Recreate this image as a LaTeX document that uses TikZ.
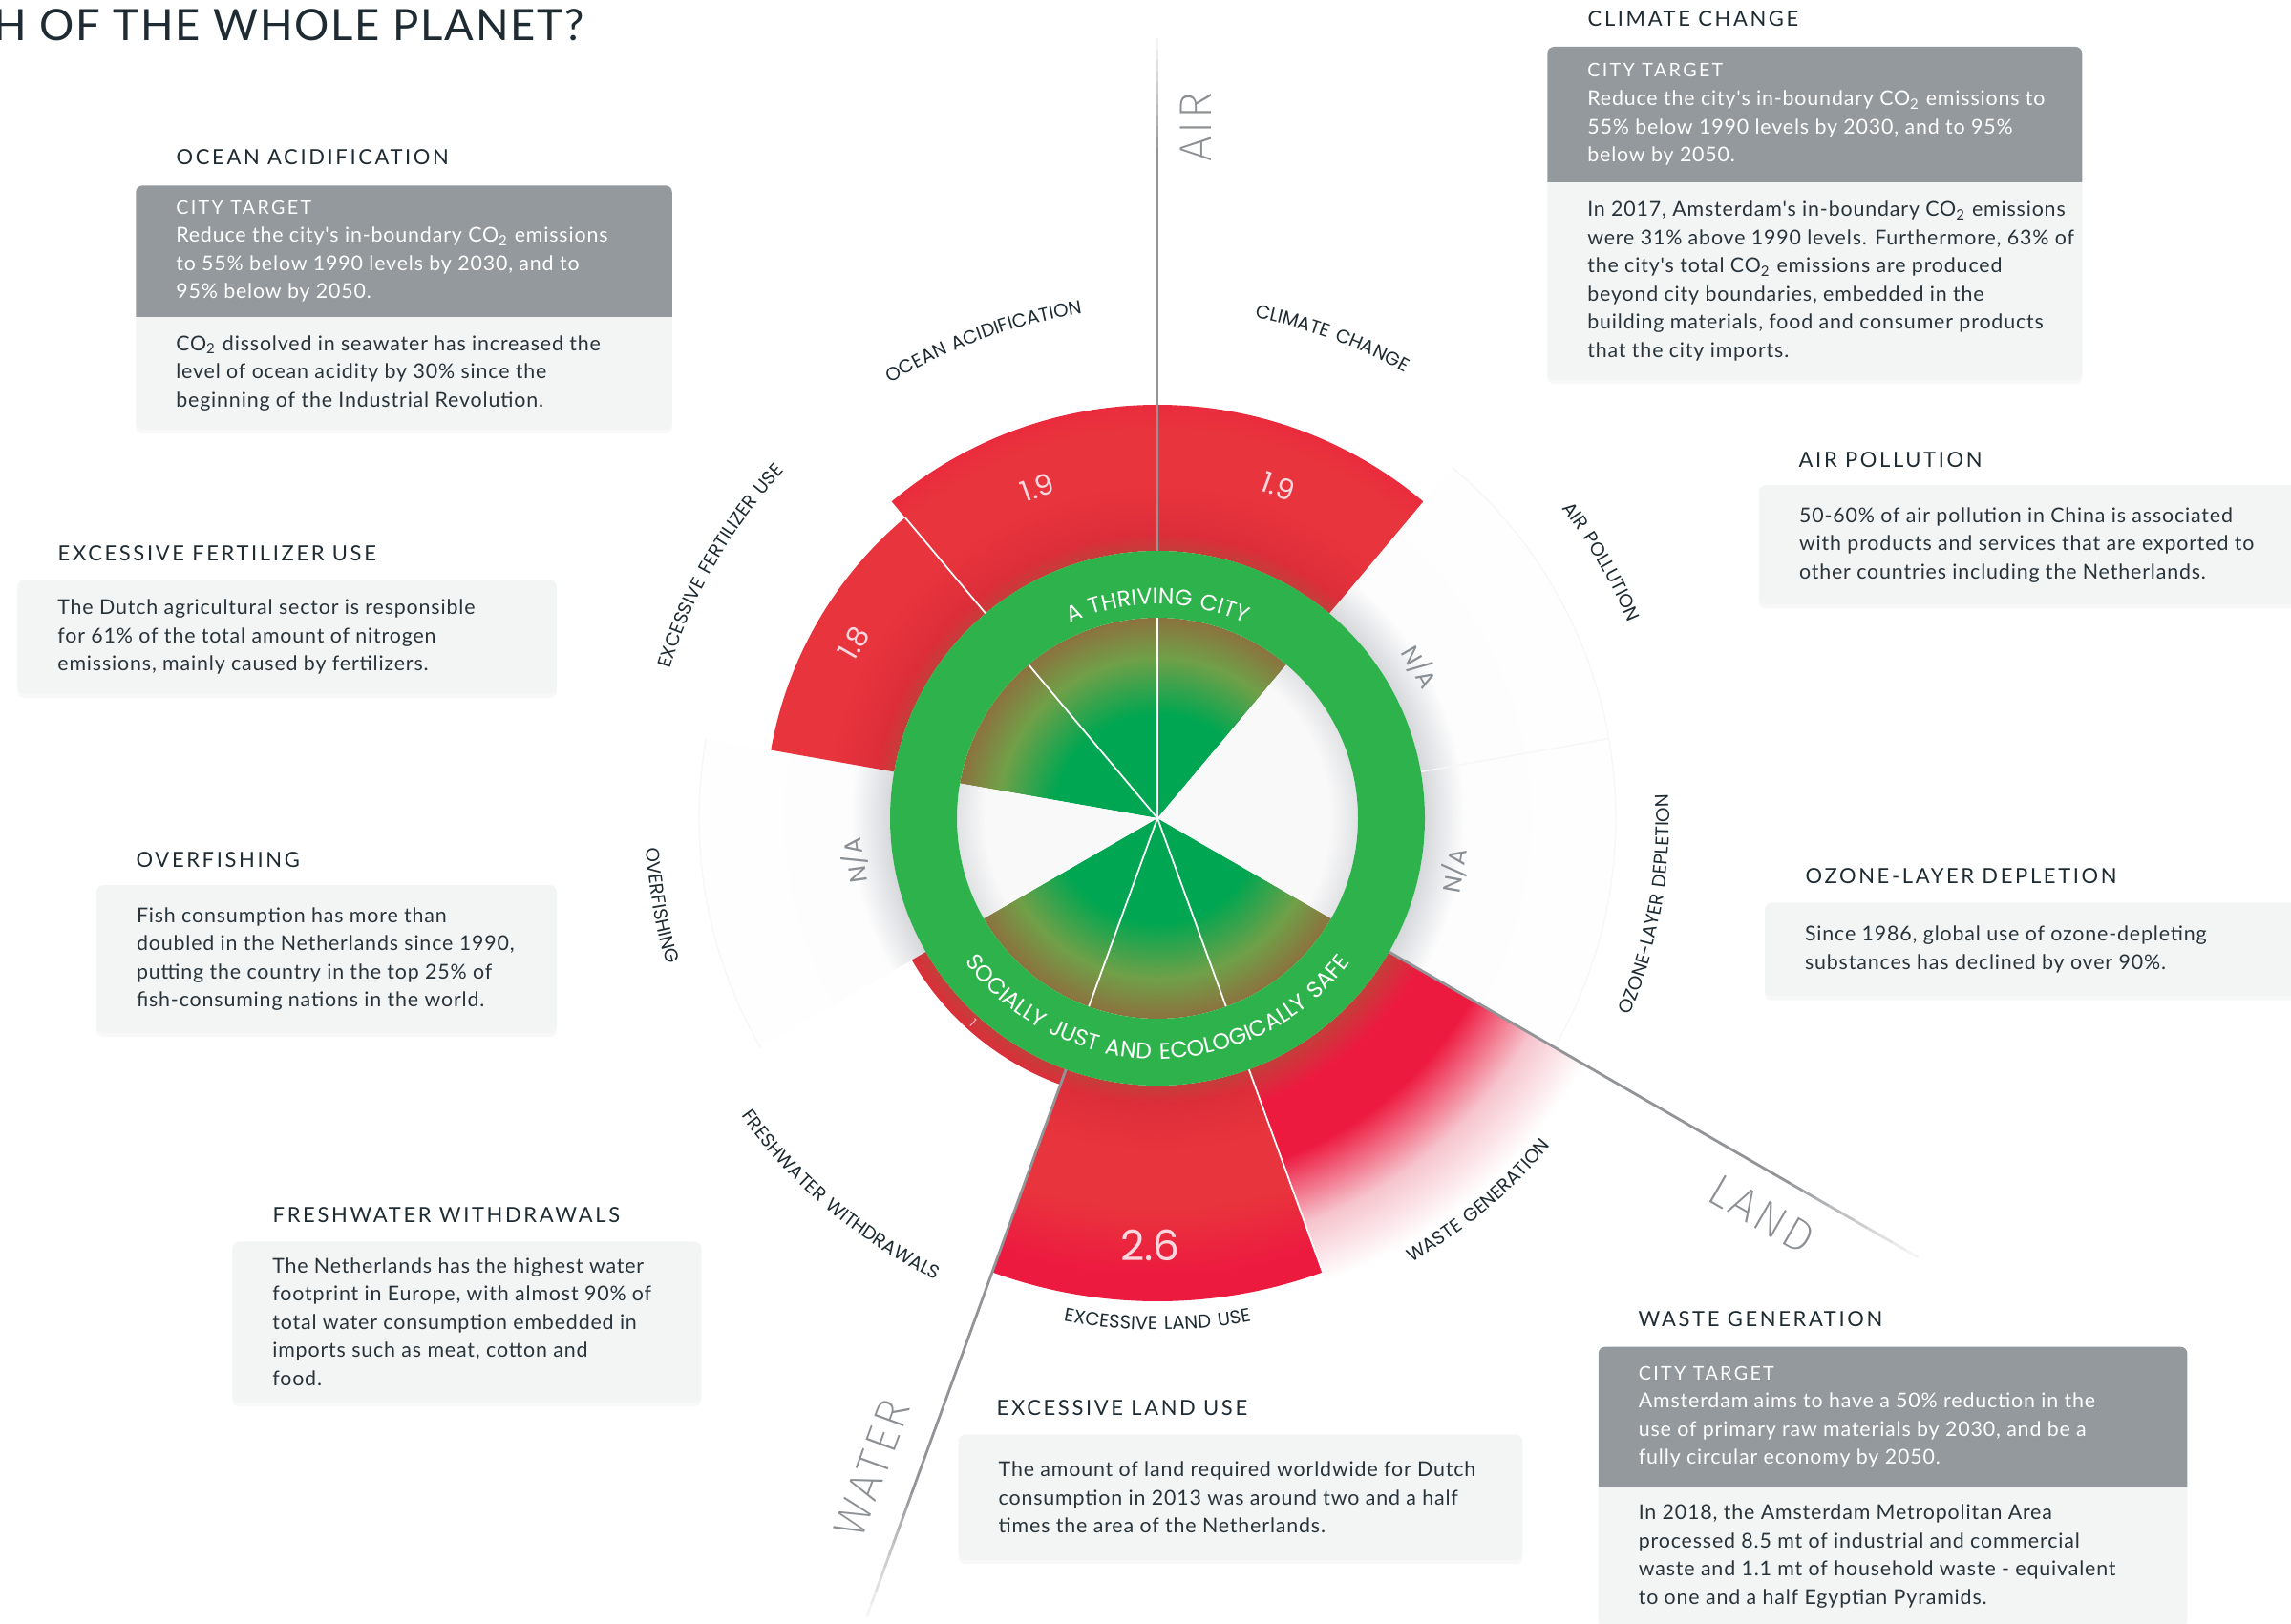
\documentclass[tikz,border=0pt]{standalone}
\usepackage{fontspec}
\setmainfont{Lato}
\newfontfamily\bodyfont[LetterSpace=4]{Lato}
\newfontfamily\headfont[LetterSpace=12]{Lato}
\newfontfamily\titleface[LetterSpace=4]{Lato}
\newfontfamily\curvefont[LetterSpace=10]{Poppins}
\newfontfamily\numfont{Poppins}
\IfFontExistsTF{Fira Sans ExtraLight}
  {\newfontfamily\thinfont[LetterSpace=6]{Fira Sans ExtraLight}}
  {\IfFontExistsTF{Fira Sans Light}
    {\newfontfamily\thinfont[LetterSpace=6]{Fira Sans Light}}
    {\newfontfamily\thinfont[LetterSpace=6]{Fira Sans}}}
\usetikzlibrary{positioning,decorations.text,shadows,backgrounds}

\definecolor{inkdark}{RGB}{30,43,50}
\definecolor{ink}{RGB}{40,52,58}
\definecolor{boxdark}{RGB}{147,153,156}
\definecolor{boxlight}{RGB}{243,244,244}
\definecolor{ringgreen}{RGB}{46,178,75}
\definecolor{coregreen}{RGB}{0,166,81}
\definecolor{coreolive}{RGB}{112,160,72}
\definecolor{corebrown}{RGB}{140,114,62}
\definecolor{corewhite}{RGB}{249,249,249}
\definecolor{coreshade}{RGB}{225,226,229}
\definecolor{redshadow}{RGB}{196,62,58}
\definecolor{rededge}{RGB}{220,46,58}
\definecolor{redmid}{RGB}{232,52,60}
\definecolor{redhot}{RGB}{237,26,64}
\definecolor{redpale}{RGB}{246,196,205}
\definecolor{nashade}{RGB}{214,216,220}
\definecolor{nawhite}{RGB}{253,253,253}
\definecolor{axisgray}{RGB}{146,148,152}
\definecolor{numpink}{RGB}{251,216,224}
\definecolor{natext}{RGB}{138,143,148}
\definecolor{bigword}{RGB}{140,143,147}

% radial shadings, 25bp = radius of the shaded circle
\pgfdeclareradialshading{redglow}{\pgfpointorigin}{color(0bp)=(redshadow); color(11.67bp)=(redshadow); color(12.4bp)=(rededge); color(14.5bp)=(redmid); color(17bp)=(redmid); color(20bp)=(redhot); color(50bp)=(redhot)}
\pgfdeclareradialshading{wastefade}{\pgfpointorigin}{color(0bp)=(redshadow); color(11.67bp)=(redshadow); color(13.2bp)=(redhot); color(15.8bp)=(redhot); color(18.8bp)=(redpale); color(21.5bp)=(white); color(50bp)=(white)}
\pgfdeclareradialshading{greenglow}{\pgfpointorigin}{color(0bp)=(coregreen); color(13bp)=(coregreen); color(20bp)=(coreolive); color(25bp)=(corebrown); color(50bp)=(corebrown)}
\pgfdeclareradialshading{whiteglow}{\pgfpointorigin}{color(0bp)=(corewhite); color(21.5bp)=(corewhite); color(25bp)=(coreshade); color(50bp)=(coreshade)}
\pgfdeclareradialshading{naglow}{\pgfpointorigin}{color(0bp)=(nashade); color(11.67bp)=(nashade); color(13.4bp)=(nawhite); color(25bp)=(white); color(50bp)=(white)}

\newcommand{\targetfont}{\headfont\fontsize{5.6}{8.4}\selectfont}

\tikzset{
  sector/.style n args={4}{insert path={(#1:#3) arc[start angle=#1, end angle=#2, radius=#3] -- (#2:#4) arc[start angle=#2, end angle=#1, radius=#4] -- cycle}},
  core/.style n args={3}{insert path={(0,0) -- (#1:#3) arc[start angle=#1, end angle=#2, radius=#3] -- cycle}},
  curvelabel/.style={decorate, decoration={text along path, text align=center, text color=inkdark, text={|\curvefont\fontsize{5.6}{6}\selectfont|#1}}},
  ringlabel/.style={decorate, decoration={text along path, text align=center, text color=white, text={|\curvefont\fontsize{6.7}{7}\selectfont|#1}}},
  head/.style={anchor=base west, inner sep=0pt, text=inkdark, font=\headfont\fontsize{6.25}{7}\selectfont},
  boxtext/.style={align=left, inner sep=0pt, text=ink, font=\bodyfont\fontsize{6.08}{8.4}\selectfont},
  whitetext/.style={boxtext, text=white},
  panel/.style={inner sep=0pt, outer sep=0pt},
  boxshadow/.style={drop shadow={opacity=0.06, shadow xshift=0pt, shadow yshift=-1.2pt}},
  num/.style={inner sep=0pt, text=numpink, font=\numfont\fontsize{8.5}{9}\selectfont},
  na/.style={inner sep=0pt, text=natext, font=\numfont\fontsize{7.2}{8}\selectfont},
  bigword/.style={inner sep=0pt, text=bigword, font=\thinfont\fontsize{13.5}{15}\selectfont},
  sepline/.style={white, line width=0.5pt},
  axisline/.style={draw=axisgray, line width=0.8pt},
  nafaint/.style={draw=black!3, line width=0.4pt}
}

\begin{document}
\begin{tikzpicture}
\useasboundingbox (0,0) rectangle (23.99,17);

% title (cut at the left edge)
\node[anchor=base east, inner sep=0pt, text=inkdark, font=\titleface\fontsize{12.9}{14}\selectfont] (title) at (6.12,16.57) {H OF THE WHOLE PLANET?};

% the doughnut
\begin{scope}[shift={(12.12,8.43)}]
  % N/A sectors
  \foreach \a/\b in {10/50, -30/10, 170/210} {
    \begin{scope}
      \clip[sector={\a}{\b}{2.8}{4.8}];
      \shade[shading=naglow] (0,0) circle (6);
    \end{scope}
    \draw[nafaint] (\a:4.8) arc[start angle=\a, end angle=\b, radius=4.8];
  }
  \draw[nafaint] (10:2.8) -- (10:4.8);

  % overshoot wedges
  \foreach \a/\b/\r in {50/90/4.33, 90/130/4.33, 130/170/4.11, -110/-70/5.06, -150/-110/2.97} {
    \begin{scope}
      \clip[sector={\a}{\b}{2.8}{\r}];
      \shade[shading=redglow] (0,0) circle (6);
    \end{scope}
  }
  \begin{scope}
    \clip[sector={-70}{-30}{2.8}{5.7}];
    \shade[shading=wastefade] (0,0) circle (6);
  \end{scope}

  % inner core
  \foreach \a/\b in {50/170, -150/-30} {
    \begin{scope}
      \clip[core={\a}{\b}{2.1}];
      \shade[shading=greenglow] (0,0) circle (2.1);
    \end{scope}
  }
  \foreach \a/\b in {-30/50, 170/210} {
    \begin{scope}
      \clip[core={\a}{\b}{2.1}];
      \shade[shading=whiteglow] (0,0) circle (2.1);
    \end{scope}
  }
  \foreach \a in {90,130,-70,-110}
    \draw[sepline] (0,0) -- (\a:2.1);
  \draw[sepline] (130:2.8) -- (130:4.11);
  \draw[sepline] (-70:2.8) -- (-70:5.06);

  % green ring
  \fill[ringgreen, even odd rule] (0,0) circle (2.8) (0,0) circle (2.1);
  \path[ringlabel={A THRIVING CITY}] (170:2.24) arc[start angle=170, end angle=10, radius=2.24];
  \path[ringlabel={SOCIALLY JUST AND ECOLOGICALLY SAFE}] (-170:2.52) arc[start angle=-170, end angle=-10, radius=2.52];

  % AIR, LAND and WATER lines, fading out
  \foreach \ang/\from/\to in {90/6.9/8.17, -30/7.5/9.2, -110/7.4/8.9} {
    \draw[axisline] (\ang:2.8) -- (\ang:\from);
    \foreach \i [evaluate=\i as \tone using int(100-9*\i)] in {0,...,10}
      \draw[axisline, draw=axisgray!\tone] ({\ang}:{\from+(\to-\from)*\i/11}) -- ({\ang}:{\from+(\to-\from)*(\i+1)/11});
  }

  % values
  \node[num, rotate=-20] (ccval) at (70:3.70) {1.9};
  \node[num, rotate=20] (oaval) at (110:3.69) {1.9};
  \node[num, rotate=60] (fuval) at (150:3.67) {1.8};
  \node[num, font=\numfont\fontsize{12.5}{13}\selectfont] (luval) at (-91:4.47) {2.6};
  \node[num, font=\numfont\fontsize{3.8}{4}\selectfont, text=numpink!80!redhot, rotate=-42] (fwval) at (-132:2.885) {1};
  \node[na, rotate=-60] (apval) at (30:3.17) {N/A};
  \node[na, rotate=80] (ozval) at (-10:3.16) {N/A};
  \node[na, rotate=98] (ofval) at (188:3.2) {N/A};

  % boundary names round the doughnut
  \path[curvelabel={OCEAN ACIDIFICATION}] (130:5.34) arc[start angle=130, end angle=90, radius=5.34];
  \path[curvelabel={CLIMATE CHANGE}] (90:5.34) arc[start angle=90, end angle=50, radius=5.34];
  \path[curvelabel={AIR POLLUTION}] (50:5.34) arc[start angle=50, end angle=10, radius=5.34];
  \path[curvelabel={EXCESSIVE FERTILIZER USE}] (170:5.34) arc[start angle=170, end angle=130, radius=5.34];
  \path[curvelabel={OVERFISHING}] (170:5.36) arc[start angle=170, end angle=210, radius=5.36];
  \path[curvelabel={FRESHWATER WITHDRAWALS}] (210:5.36) arc[start angle=210, end angle=250, radius=5.36];
  \path[curvelabel={EXCESSIVE LAND USE}] (-110:5.36) arc[start angle=-110, end angle=-70, radius=5.36];
  \path[curvelabel={WASTE GENERATION}] (-70:5.36) arc[start angle=-70, end angle=-30, radius=5.36];
  \path[curvelabel={OZONE-LAYER DEPLETION}] (-30:5.36) arc[start angle=-30, end angle=10, radius=5.36];
\end{scope}

\node[bigword, rotate=90] (airword) at (12.52,15.67) {AIR};
\node[bigword, rotate=-30] (landword) at (18.45,4.28) {LAND};
\node[bigword, rotate=70] (waterword) at (9.13,1.62) {WATER};

% ocean acidification
\node[head] (oahead) at (1.84,15.27) {OCEAN ACIDIFICATION};
\node[panel, minimum width=5.615cm, minimum height=1.377cm, anchor=north west] (oatarget) at (1.423,15.057) {};
\node[panel, minimum width=5.615cm, minimum height=1.18cm, below=0pt of oatarget] (oafact) {};
\node[whitetext, right=0.413cm of oatarget.west] (oatargettxt) {{\targetfont CITY TARGET}\\Reduce the city's in-boundary CO\textsubscript{2} emissions\\to 55\% below 1990 levels by 2030, and to\\95\% below by 2050.};
\node[boxtext, right=0.413cm of oafact.west] (oafacttxt) {CO\textsubscript{2} dissolved in seawater has increased the\\level of ocean acidity by 30\% since the\\beginning of the Industrial Revolution.};

% climate change
\node[head] (cchead) at (16.62,16.725) {CLIMATE CHANGE};
\node[panel, minimum width=5.6cm, minimum height=1.42cm, anchor=north west] (cctarget) at (16.203,16.51) {};
\node[panel, minimum width=5.6cm, minimum height=2.07cm, below=0pt of cctarget] (ccfact) {};
\node[whitetext, right=0.413cm of cctarget.west] (cctargettxt) {{\targetfont CITY TARGET}\\Reduce the city's in-boundary CO\textsubscript{2} emissions to\\55\% below 1990 levels by 2030, and to 95\%\\below by 2050.};
\node[boxtext, right=0.413cm of ccfact.west] (ccfacttxt) {In 2017, Amsterdam's in-boundary CO\textsubscript{2} emissions\\were 31\% above 1990 levels. Furthermore, 63\% of\\the city's total CO\textsubscript{2} emissions are produced\\beyond city boundaries, embedded in the\\building materials, food and consumer products\\that the city imports.};

% excessive fertilizer use
\node[head] (fuhead) at (0.60,11.125) {EXCESSIVE FERTILIZER USE};
\node[panel, minimum width=5.645cm, minimum height=1.193cm, anchor=north west] (fufact) at (0.184,10.926) {};
\node[boxtext, right=0.413cm of fufact.west] (fufacttxt) {The Dutch agricultural sector is responsible\\for 61\% of the total amount of nitrogen\\emissions, mainly caused by fertilizers.};

% overfishing
\node[head] (ofhead) at (1.42,7.912) {OVERFISHING};
\node[panel, minimum width=4.82cm, minimum height=1.545cm, anchor=north west] (offact) at (1.010,7.728) {};
\node[boxtext, right=0.413cm of offact.west] (offacttxt) {Fish consumption has more than\\doubled in the Netherlands since 1990,\\putting the country in the top 25\% of\\fish-consuming nations in the world.};

% freshwater withdrawals
\node[head] (fwhead) at (2.85,4.194) {FRESHWATER WITHDRAWALS};
\node[panel, minimum width=4.91cm, minimum height=1.683cm, anchor=north west] (fwfact) at (2.433,3.995) {};
\node[boxtext, right=0.413cm of fwfact.west] (fwfacttxt) {The Netherlands has the highest water\\footprint in Europe, with almost 90\% of\\total water consumption embedded in\\imports such as meat, cotton and\\food.};

% excessive land use
\node[head] (luhead) at (10.43,2.174) {EXCESSIVE LAND USE};
\node[panel, minimum width=5.906cm, minimum height=1.315cm, anchor=north west] (lufact) at (10.037,1.975) {};
\node[boxtext, right=0.413cm of lufact.west] (lufacttxt) {The amount of land required worldwide for Dutch\\consumption in 2013 was around two and a half\\times the area of the Netherlands.};

% waste generation
\node[head] (wghead) at (17.15,3.108) {WASTE GENERATION};
\node[panel, minimum width=6.166cm, minimum height=1.468cm, anchor=north west] (wgtarget) at (16.738,2.893) {};
\node[panel, minimum width=6.166cm, minimum height=1.45cm, below=0pt of wgtarget] (wgfact) {};
\node[whitetext, right=0.413cm of wgtarget.west] (wgtargettxt) {{\targetfont CITY TARGET}\\Amsterdam aims to have a 50\% reduction in the\\use of primary raw materials by 2030, and be a\\fully circular economy by 2050.};
\node[boxtext, right=0.413cm of wgfact.west] (wgfacttxt) {In 2018, the Amsterdam Metropolitan Area\\processed 8.5 mt of industrial and commercial\\waste and 1.1 mt of household waste - equivalent\\to one and a half Egyptian Pyramids.};

% air pollution
\node[head] (aphead) at (18.83,12.104) {AIR POLLUTION};
\node[panel, minimum width=5.8cm, minimum height=1.254cm, anchor=north west] (apfact) at (18.42,11.92) {};
\node[boxtext, right=0.413cm of apfact.west] (apfacttxt) {50-60\% of air pollution in China is associated\\with products and services that are exported to\\other countries including the Netherlands.};

% ozone-layer depletion
\node[head] (ozhead) at (18.90,7.744) {OZONE-LAYER DEPLETION};
\node[panel, minimum width=5.8cm, minimum height=0.98cm, anchor=north west] (ozfact) at (18.48,7.545) {};
\node[boxtext, right=0.413cm of ozfact.west] (ozfacttxt) {Since 1986, global use of ozone-depleting\\substances has declined by over 90\%.};

% box fills
\begin{pgfonlayer}{background}
  \foreach \bx in {oa, cc, wg} {
    \fill[boxlight, rounded corners=2pt, boxshadow] (\bx fact.north west) -- (\bx fact.south west) -- (\bx fact.south east) -- (\bx fact.north east);
    \fill[boxdark, rounded corners=2pt] (\bx target.south west) -- (\bx target.north west) -- (\bx target.north east) -- (\bx target.south east);
  }
  \fill[boxlight] (wgfact.south west) rectangle ([yshift=-0.5cm]wgfact.south east);
  \foreach \bx in {fu, of, fw, lu, ap, oz}
    \fill[boxlight, rounded corners=2pt, boxshadow] (\bx fact.north west) rectangle (\bx fact.south east);
\end{pgfonlayer}
\end{tikzpicture}
\end{document}
